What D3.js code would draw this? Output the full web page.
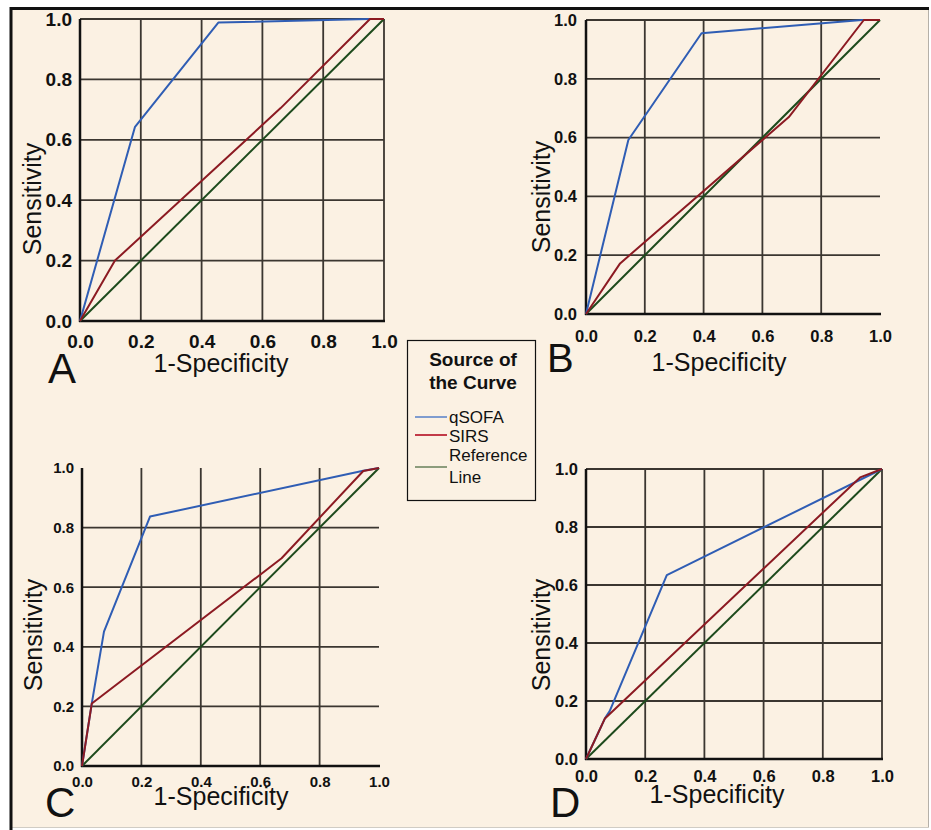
<!DOCTYPE html>
<html>
<head>
<meta charset="utf-8">
<script src="https://cdn.jsdelivr.net/npm/d3@7"></script>
<style>
  body { margin: 0; background: #fff; }
  text { font-family: "Liberation Sans", Arial, sans-serif; }
</style>
</head>
<body>
<div id="chart"></div>
<script>
// tick values shared by every panel
var tickValues = [0, 0.2, 0.4, 0.6, 0.8, 1.0];
var seriesNames = ["qSOFA", "SIRS", "Reference Line"];

// ROC points: [1-specificity, sensitivity]
var qsofaA = [[0, 0], [0.181, 0.643], [0.455, 0.988], [0.95, 1], [1, 1]];
var sirsA  = [[0, 0], [0.115, 0.2], [0.66, 0.705], [0.954, 1], [1, 1]];
var qsofaB = [[0, 0], [0.144, 0.592], [0.393, 0.955], [0.938, 1], [1, 1]];
var sirsB  = [[0, 0], [0.116, 0.172], [0.69, 0.67], [0.945, 1], [1, 1]];
var qsofaC = [[0, 0], [0.033, 0.21], [0.074, 0.451], [0.229, 0.837], [0.947, 0.991], [1, 1]];
var sirsC  = [[0, 0], [0.033, 0.21], [0.672, 0.697], [0.947, 0.99], [1, 1]];
var qsofaD = [[0, 0], [0.064, 0.14], [0.08, 0.165], [0.273, 0.634], [1, 1]];
var sirsD  = [[0, 0], [0.064, 0.14], [0.926, 0.971], [1, 1]];
var refLine = [[0, 0], [1, 1]];

var colors = { "qSOFA": "#2f5db4", "SIRS": "#8c1a22", "Reference Line": "#1d4a1c" };
var legendColors = { "qSOFA": "#7f9ccf", "SIRS": "#c23a48", "Reference Line": "#8c9c7c" };

var panels = [
  { id: "A", q: qsofaA, s: sirsA, x0: 80, x1: 384, y0: 19, y1: 321, fs: 19, padY: 8, padX: 14,
    gridTop: true, gridRight: true, sens: [41, 199], spec: [221, 372], letter: [48, 383, 42] },
  { id: "B", q: qsofaB, s: sirsB, x0: 586, x1: 880, y0: 20, y1: 314, fs: 16.5, padY: 9, padX: 16,
    gridTop: true, gridRight: false, sens: [550, 197], spec: [719, 371], letter: [547, 372, 40] },
  { id: "C", q: qsofaC, s: sirsC, x0: 82, x1: 379, y0: 468, y1: 766, fs: 15, padY: 8, padX: 10,
    gridTop: false, gridRight: false, sens: [42, 635], spec: [221, 805], letter: [45, 817, 42] },
  { id: "D", q: qsofaD, s: sirsD, x0: 586, x1: 882, y0: 469, y1: 759, fs: 16.5, padY: 8, padX: 11,
    gridTop: true, gridRight: true, sens: [550, 635], spec: [717, 803], letter: [550, 817, 42] }
];

var W = 931, H = 830;
var svg = d3.select("#chart").append("svg")
  .attr("width", W)
  .attr("height", H);

// cream canvas with the frame
svg.append("rect").attr("x", 11).attr("y", 8).attr("width", 917).attr("height", 819)
  .attr("fill", "#fbf1e3");
svg.append("line").attr("x1", 928.5).attr("x2", 928.5).attr("y1", 8).attr("y2", 828)
  .attr("stroke", "#b5b0a8").attr("stroke-width", 1);
svg.append("line").attr("x1", 11).attr("x2", 929).attr("y1", 827.5).attr("y2", 827.5)
  .attr("stroke", "#d0ccc4").attr("stroke-width", 1);
svg.append("line").attr("x1", 11).attr("x2", 11).attr("y1", 7).attr("y2", 830)
  .attr("stroke", "#111").attr("stroke-width", 3);
svg.append("line").attr("x1", 10).attr("x2", 929).attr("y1", 8.5).attr("y2", 8.5)
  .attr("stroke", "#111").attr("stroke-width", 3);

panels.forEach(function (p) {
  var x = d3.scaleLinear().domain([0, 1]).range([p.x0, p.x1]);
  var y = d3.scaleLinear().domain([0, 1]).range([p.y1, p.y0]);
  var g = svg.append("g");

  // grid
  var vx = tickValues.filter(function (d) { return d > 0 && (d < 1 || p.gridRight); });
  var hy = tickValues.filter(function (d) { return d > 0 && (d < 1 || p.gridTop); });
  g.selectAll(".gv").data(vx).enter().append("line")
    .attr("x1", function (d) { return x(d); }).attr("x2", function (d) { return x(d); })
    .attr("y1", y(1)).attr("y2", y(0))
    .attr("stroke", "#3b3630").attr("stroke-width", 1.8);
  g.selectAll(".gh").data(hy).enter().append("line")
    .attr("x1", x(0)).attr("x2", x(1))
    .attr("y1", function (d) { return y(d); }).attr("y2", function (d) { return y(d); })
    .attr("stroke", "#3b3630").attr("stroke-width", 1.8);

  // axes: labels from d3 axes, lines drawn plain
  var yAxis = g.append("g").attr("transform", "translate(" + p.x0 + ",0)")
    .call(d3.axisLeft(y).tickValues(tickValues).tickFormat(d3.format(".1f")).tickSize(0).tickPadding(p.padY));
  var xAxis = g.append("g").attr("transform", "translate(0," + p.y1 + ")")
    .call(d3.axisBottom(x).tickValues(tickValues).tickFormat(d3.format(".1f")).tickSize(0).tickPadding(p.padX));
  [yAxis, xAxis].forEach(function (a) {
    a.select(".domain").remove();
    a.selectAll("text")
      .style("font-family", "'Liberation Sans', Arial, sans-serif")
      .style("font-weight", "bold")
      .style("font-size", p.fs + "px")
      .attr("fill", "#111");
  });
  g.append("line").attr("x1", x(0)).attr("x2", x(0)).attr("y1", y(1)).attr("y2", y(0) + 1)
    .attr("stroke", "#111").attr("stroke-width", 2.5);
  g.append("line").attr("x1", x(0) - 1).attr("x2", x(1) + 1).attr("y1", y(0)).attr("y2", y(0))
    .attr("stroke", "#111").attr("stroke-width", 2.5);

  // curves
  var line = d3.line().x(function (d) { return x(d[0]); }).y(function (d) { return y(d[1]); });
  [["Reference Line", refLine], ["qSOFA", p.q], ["SIRS", p.s]].forEach(function (c) {
    g.append("path").datum(c[1])
      .attr("d", line)
      .attr("fill", "none")
      .attr("stroke", colors[c[0]])
      .attr("stroke-width", 2)
      .attr("stroke-linejoin", "round");
  });

  // axis titles
  g.append("text")
    .attr("transform", "translate(" + p.sens[0] + "," + p.sens[1] + ")rotate(-90)")
    .attr("text-anchor", "middle")
    .style("font-size", "25px")
    .attr("fill", "#111")
    .text("Sensitivity");
  g.append("text")
    .attr("x", p.spec[0]).attr("y", p.spec[1])
    .attr("text-anchor", "middle")
    .style("font-size", "25px")
    .attr("fill", "#111")
    .text("1-Specificity");
  g.append("text")
    .attr("x", p.letter[0]).attr("y", p.letter[1])
    .style("font-size", p.letter[2] + "px")
    .attr("fill", "#111")
    .text(p.id);
});

// legend
var lg = svg.append("g");
lg.append("rect").attr("x", 407.5).attr("y", 340.5).attr("width", 128).attr("height", 160)
  .attr("fill", "#fbf1e3").attr("stroke", "#111").attr("stroke-width", 1.2);
lg.append("text").attr("x", 473).attr("y", 366).attr("text-anchor", "middle")
  .style("font-size", "19px").style("font-weight", "bold").attr("fill", "#111").text("Source of");
lg.append("text").attr("x", 473).attr("y", 389).attr("text-anchor", "middle")
  .style("font-size", "19px").style("font-weight", "bold").attr("fill", "#111").text("the Curve");

var legendRows = [
  { name: seriesNames[0], lineY: 417, lines: ["qSOFA"], textY: [423] },
  { name: seriesNames[1], lineY: 435, lines: ["SIRS"], textY: [442] },
  { name: seriesNames[2], lineY: 467, lines: ["Reference", "Line"], textY: [461, 483] }
];
legendRows.forEach(function (r) {
  lg.append("line").attr("x1", 415).attr("x2", 447).attr("y1", r.lineY).attr("y2", r.lineY)
    .attr("stroke", legendColors[r.name]).attr("stroke-width", 2);
  r.lines.forEach(function (t, i) {
    lg.append("text").attr("x", 449).attr("y", r.textY[i])
      .style("font-size", "17px").attr("fill", "#111").text(t);
  });
});
</script>
</body>
</html>
